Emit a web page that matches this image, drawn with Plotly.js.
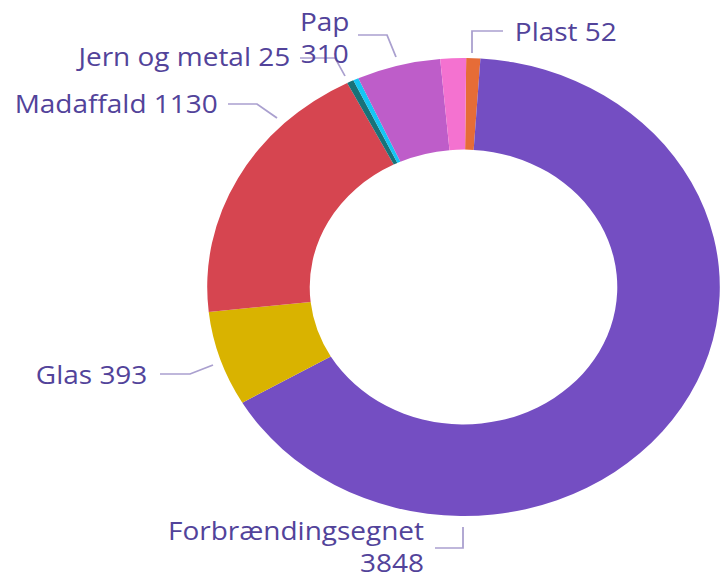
<!DOCTYPE html>
<html>
<head>
<meta charset="utf-8">
<script src="https://cdn.plot.ly/plotly-3.0.1.min.js"></script>
<style>
  html, body { margin: 0; padding: 0; background: #ffffff; overflow: hidden; }
  #chart { width: 646px; height: 581px; transform: scaleX(1.1192); transform-origin: 0 0; }
</style>
</head>
<body>
<div id="chart"></div>
<script>
// ---- data ----
const categories = ['Plast', 'Forbrændingsegnet', 'Glas', 'Madaffald', 'Jern og metal', 'Farligt affald', 'Pap', 'Tekstiler'];
const amounts    = [52, 3848, 393, 1130, 25, 20, 310, 95];
const sliceColors = ['#E66C37', '#744EC2', '#D9B300', '#D64550', '#197278', '#15C6F4', '#BE5DC9', '#F472D0'];
const showLabel  = [true, true, true, true, true, false, true, false];
const twoLines   = [false, true, false, false, false, false, true, false];

// ---- label layout (reference pixel positions) ----
const W = 723, H = 581;
const labelPos = {
  'Plast':             {x: 514, y: 31, xanchor: 'left',  align: 'left'},
  'Forbrændingsegnet': {x: 425, y: 546, xanchor: 'right', align: 'right'},
  'Glas':              {x: 149, y: 374, xanchor: 'right', align: 'right'},
  'Madaffald':         {x: 219, y: 103, xanchor: 'right', align: 'right'},
  'Jern og metal':     {x: 291, y: 56, xanchor: 'right', align: 'right'},
  'Pap':               {x: 350, y: 37, xanchor: 'right', align: 'center'}
};
const leaders = {
  'Plast':             [[503, 31], [472, 31], [472, 53]],
  'Forbrændingsegnet': [[435, 548], [463, 548], [463, 527]],
  'Glas':              [[160, 374], [190, 374], [213, 365]],
  'Madaffald':         [[228, 104], [257, 104], [277, 118]],
  'Jern og metal':     [[300, 58], [335, 58], [345, 76]],
  'Pap':               [[358, 35], [387, 35], [396, 57]]
};

const px = x => x / W;
const py = y => 1 - y / H;

const textColor = '#52439a';
const lineColor = '#aaa0cf';

const annotations = [];
const shapes = [];
categories.forEach((c, i) => {
  if (!showLabel[i]) return;
  const p = labelPos[c];
  annotations.push({
    xref: 'paper', yref: 'paper',
    x: px(p.x), y: py(p.y),
    xanchor: p.xanchor, yanchor: 'middle', align: p.align,
    showarrow: false, borderpad: 0,
    text: c + (twoLines[i] ? '<br>' : ' ') + amounts[i],
    font: {family: '"Segoe UI", "Open Sans", sans-serif', size: 25, color: textColor}
  });
  const pts = leaders[c];
  shapes.push({
    type: 'path', xref: 'paper', yref: 'paper',
    path: pts.map((q, k) => (k ? 'L' : 'M') + px(q[0]) + ',' + py(q[1])).join(' '),
    line: {color: lineColor, width: 1.6}
  });
});

const trace = {
  type: 'pie',
  labels: categories,
  values: amounts,
  marker: {colors: sliceColors, line: {width: 0}},
  hole: 0.6,
  sort: false,
  direction: 'clockwise',
  rotation: 0.6,
  textinfo: 'none',
  hoverinfo: 'none',
  showlegend: false,
  domain: {x: [(463.5 - 258) / W, (463.5 + 258) / W], y: [1 - (287 + 229) / H, 1 - (287 - 229) / H]}
};

Plotly.newPlot('chart', [trace], {
  width: 646, height: 581,
  margin: {l: 0, r: 0, t: 0, b: 0},
  paper_bgcolor: '#ffffff',
  showlegend: false,
  annotations: annotations,
  shapes: shapes
}, {displayModeBar: false, staticPlot: true});
</script>
</body>
</html>
